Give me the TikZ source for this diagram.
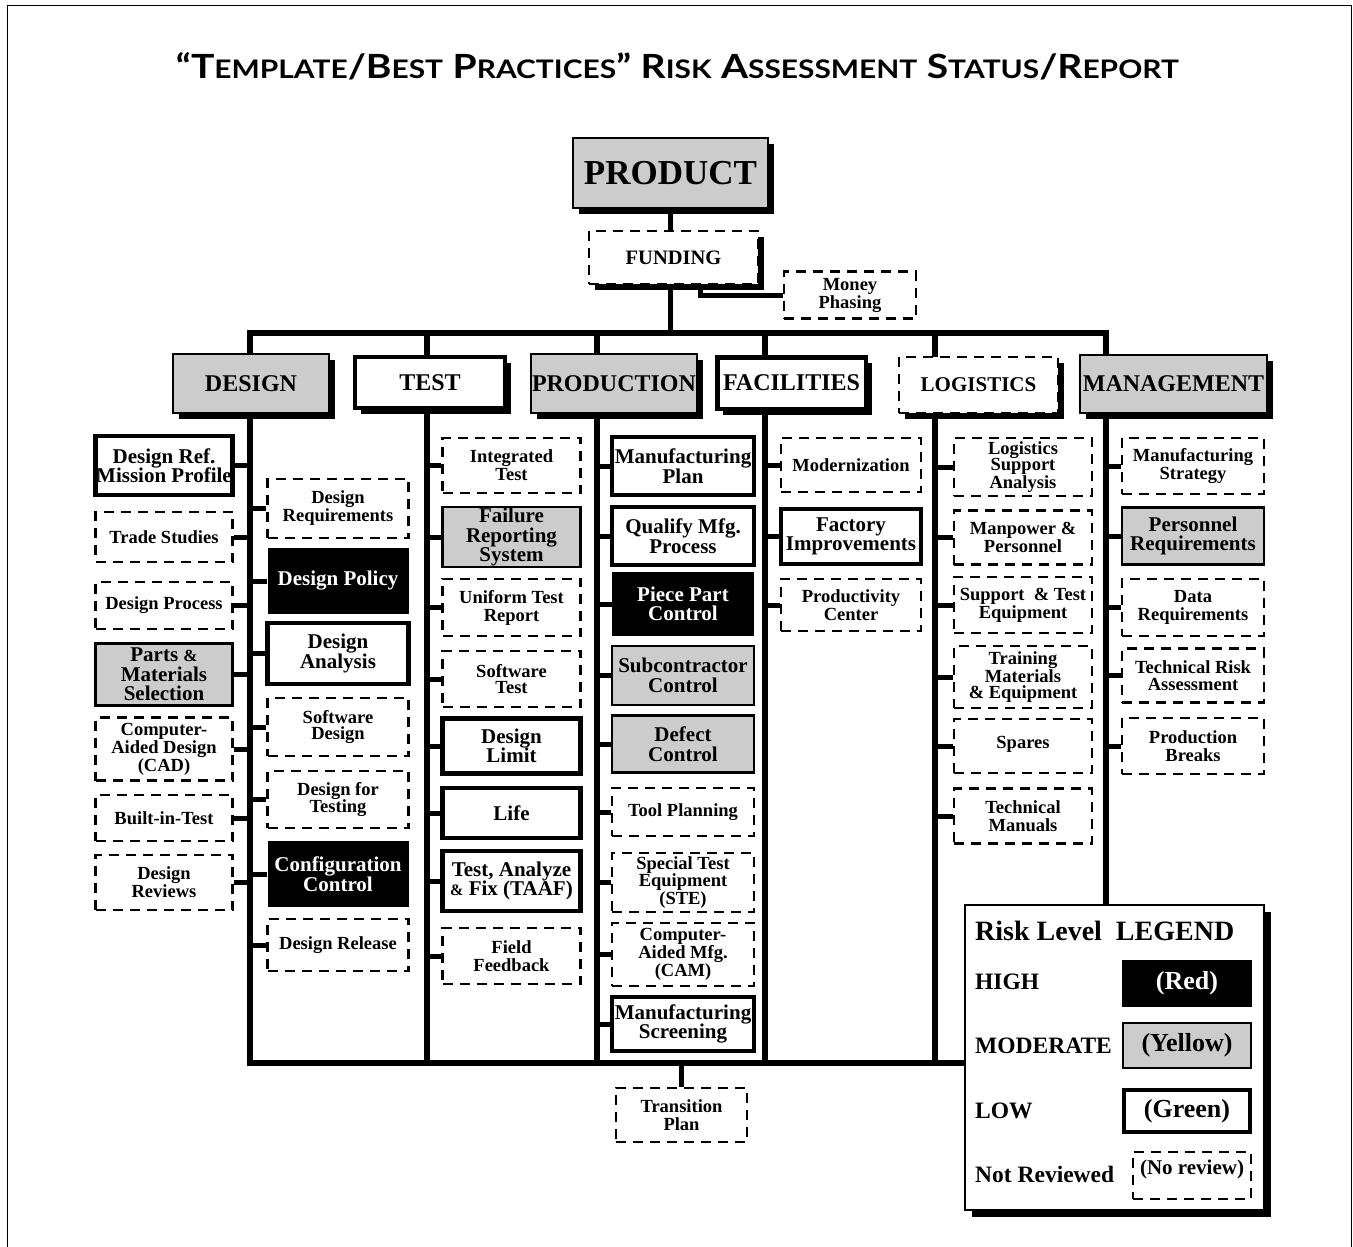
\documentclass[tikz,border=0pt]{standalone}
\usepackage{graphicx}
\usepackage{fontspec}
\setmainfont{Liberation Serif}
\newfontfamily\titlefont{Lato}
\usetikzlibrary{shadows,backgrounds}

\newcommand{\capa}[1]{{\fontsize{30}{30}\selectfont #1}}
\newcommand{\capb}[1]{{\fontsize{23}{23}\selectfont #1}}

\begin{document}
\begin{tikzpicture}[x=1pt, y=-1pt,
  box/.style={rectangle, inner sep=0pt, align=center, font=\fontsize{21}{19.5}\selectfont\bfseries},
  hi/.style={box, fill=black, text=white},
  mod/.style={box, draw, line width=2.5pt, fill=black!20},
  low/.style={box, draw, line width=4.5pt, fill=white},
  nrev/.style={box, draw, line width=2.5pt, dash pattern=on 10pt off 7pt, fill=white, font=\fontsize{18.5}{18}\selectfont\bfseries},
  nrevt/.style={nrev, font=\fontsize{18.5}{16.5}\selectfont\bfseries},
  head/.style={font=\fontsize{24}{24}\selectfont\bfseries, drop shadow={shadow xshift=6pt, shadow yshift=-6pt, fill=black, opacity=1}},
  bus/.style={line width=5.5pt, line cap=rect},
  stub/.style={line width=5pt},
  lgd/.style={anchor=base west, inner sep=0pt, font=\fontsize{23.5}{24}\selectfont\bfseries},
  swatch/.style={minimum width=130pt, minimum height=47pt, font=\fontsize{26}{26}\selectfont\bfseries}]
  \useasboundingbox (0,0) rectangle (1353,1247);
  \draw[line width=1pt] (7,1247) -- (7,6) -- (1351,6) -- (1351,1247);

  \node[anchor=base, inner sep=0pt] (title) at (677.5,79) {\resizebox{1003pt}{26pt}{\titlefont\bfseries\fontsize{30}{30}\selectfont
    \capa{“T}\capb{EMPLATE}\capa{/B}\capb{EST} \capa{P}\capb{RACTICES}\capa{”} \capa{R}\capb{ISK} \capa{A}\capb{SSESSMENT} \capa{S}\capb{TATUS}\capa{/R}\capb{EPORT}}};

  % spine positions on the top bus
  \coordinate (dsgtop) at (250,333);
  \coordinate (tsttop) at (427,333);
  \coordinate (prdtop) at (597,333);
  \coordinate (factop) at (765,333);
  \coordinate (lgstop) at (935,333);
  \coordinate (mgttop) at (1106,333);
  \coordinate (botl) at (250,1063);

  \node[mod, head, font=\fontsize{35}{35}\selectfont\bfseries, minimum width=195pt, minimum height=70pt] (prod) at (670.5,173) {PRODUCT};
  \node[nrev, head, font=\fontsize{20.5}{21}\selectfont\bfseries, minimum width=169pt, minimum height=53pt] (fund) at (673.5,257.5) {FUNDING};
  \node[nrev, minimum width=132pt, minimum height=47pt] (money) at (850,295) {Money\\Phasing};

  \node[mod, head, minimum width=156pt, minimum height=59pt] (dsg) at (251,383.5) {DESIGN};
  \node[low, head, minimum width=150pt, minimum height=51pt] (tst) at (430,382.5) {TEST};
  \node[mod, head, minimum width=166pt, minimum height=59pt] (prd) at (614,383.5) {PRODUCTION};
  \node[low, head, minimum width=148.5pt, minimum height=51.5pt] (fac) at (791.5,383) {FACILITIES};
  \node[nrev, head, font=\fontsize{21}{21}\selectfont\bfseries, minimum width=159pt, minimum height=56pt] (lgs) at (978.5,385) {LOGISTICS};
  \node[mod, head, minimum width=187pt, minimum height=58pt] (mgt) at (1173.5,384) {MANAGEMENT};

  % design, left of the spine
  \foreach \nm/\st/\yc/\hh/\txt in {dref/low/465.5/59/{Design Ref.\\Mission Profile},
      dtrd/nrev/537/50/{Trade Studies}, dprc/nrev/605.5/47/{Design Process},
      dpmt/mod/674.5/62/{Parts {\fontsize{17}{17}\selectfont\&}\\Materials\\Selection},
      dcad/nrevt/749/63/{Computer-\\Aided Design\\(CAD)}, dbit/nrev/818/46/{Built-in-Test},
      drev/nrevt/882.5/55/{Design\\Reviews}}{
    \node[\st, minimum width=137pt, minimum height=\hh pt] (\nm) at (164,\yc) {\txt};
    \draw[stub] (\nm.east) -- (\nm.east -| dsgtop);
  }
  % design, right of the spine
  \foreach \nm/\st/\yc/\hh/\txt in {dreq/nrev/508.5/59/{Design\\Requirements},
      dpol/hi/581/66/{Design Policy}, dana/low/653.5/61/{Design\\Analysis},
      dsw/nrevt/727/58/{Software\\Design}, dtst/nrevt/799.5/57/{Design for\\Testing},
      dcfg/hi/874/66/{Configuration\\Control}, drel/nrev/945/52/{Design Release}}{
    \node[\st, minimum width=141pt, minimum height=\hh pt] (\nm) at (338,\yc) {\txt};
    \draw[stub] (\nm.west) -- (\nm.west -| dsgtop);
  }
  % test
  \foreach \nm/\st/\yc/\hh/\txt in {tint/nrev/465.5/55/{Integrated\\Test},
      tfrs/mod/537/60/{Failure\\Reporting\\System}, tutr/nrev/607.5/57/{Uniform Test\\Report},
      tsw/nrevt/679/56/{Software\\Test}, tlim/low/746/55/{Design\\Limit}, tlif/low/813/50/{Life},
      taaf/low/881/60/{Test, Analyze\\{\fontsize{16}{16}\selectfont\&} Fix (TAAF)},
      tfld/nrev/956/56/{Field\\Feedback}}{
    \node[\st, minimum width=138pt, minimum height=\hh pt] (\nm) at (511.5,\yc) {\txt};
    \draw[stub] (\nm.west) -- (\nm.west -| tsttop);
  }
  % production
  \foreach \nm/\st/\yc/\hh/\txt in {pmfp/low/466/58/{Manufacturing\\Plan},
      pqmp/low/536/58/{Qualify Mfg.\\Process}, ppp/hi/604/64/{Piece Part\\Control},
      psub/mod/675.5/59/{Subcontractor\\Control}, pdef/mod/744/57/{Defect\\Control},
      ptool/nrev/812/48/{Tool Planning}, pste/nrevt/882.5/59/{Special Test\\Equipment\\(STE)},
      pcam/nrevt/954.5/63/{Computer-\\Aided Mfg.\\(CAM)}, pscr/low/1024/54/{Manufacturing\\Screening}}{
    \node[\st, minimum width=142pt, minimum height=\hh pt] (\nm) at (683,\yc) {\txt};
    \draw[stub] (\nm.west) -- (\nm.west -| prdtop);
  }
  \node[nrev, minimum width=131pt, minimum height=54pt] (trans) at (681.5,1115) {Transition\\Plan};
  % facilities
  \foreach \nm/\st/\yc/\hh/\txt in {fmod/nrev/465/54/{Modernization},
      ffac/low/536.5/55/{Factory\\Improvements}, fprd/nrev/605/52/{Productivity\\Center}}{
    \node[\st, minimum width=140pt, minimum height=\hh pt] (\nm) at (851,\yc) {\txt};
    \draw[stub] (\nm.west) -- (\nm.west -| factop);
  }
  % logistics
  \foreach \nm/\st/\yc/\hh/\txt in {llsa/nrevt/467/58/{Logistics\\Support\\Analysis},
      lmp/nrev/537.5/54/{Manpower \&\\Personnel}, lste/nrev/605/56/{Support \ \& Test\\Equipment},
      ltrn/nrevt/677/62/{Training\\Materials\\\& Equipment}, lspr/nrev/746/54/{Spares\\[-10pt]},
      ltm/nrev/816/55/{Technical\\Manuals}}{
    \node[\st, minimum width=138pt, minimum height=\hh pt] (\nm) at (1023,\yc) {\txt};
    \draw[stub] (\nm.west) -- (\nm.west -| lgstop);
  }
  % management
  \foreach \nm/\st/\yc/\hh/\txt in {mstr/nrev/466/56/{Manufacturing\\Strategy},
      mper/mod/536/57/{Personnel\\Requirements}, mdat/nrev/607.5/57/{Data\\Requirements},
      mtra/nrevt/675.5/54/{Technical Risk\\Assessment}, mpb/nrev/746/56/{Production\\Breaks}}{
    \node[\st, minimum width=142pt, minimum height=\hh pt] (\nm) at (1193,\yc) {\txt};
    \draw[stub] (\nm.west) -- (\nm.west -| mgttop);
  }

  % legend
  \node[draw, line width=2.5pt, fill=white, inner sep=0pt, minimum width=299pt, minimum height=305pt,
    drop shadow={shadow xshift=7pt, shadow yshift=-7pt, fill=black, opacity=1}] (legend) at (1114.5,1057.5) {};
  \node[lgd, font=\fontsize{28}{28}\selectfont\bfseries] (lgdtitle) at (975,940) {Risk Level\hspace{14pt}LEGEND};
  \node[lgd] (lhigh) at (975,989) {HIGH};
  \node[hi, swatch] (shigh) at (1187,983.5) {(Red)};
  \node[lgd] (lmod) at (975,1053) {MODERATE};
  \node[mod, swatch, minimum width=128pt, minimum height=45pt] (smod) at (1187,1045.5) {(Yellow)};
  \node[lgd] (llow) at (975,1118) {LOW};
  \node[low, swatch, minimum width=126pt, minimum height=42pt] (slow) at (1187,1111) {(Green)};
  \node[lgd] (lnr) at (975,1182) {Not Reviewed};
  \node[nrev, minimum width=118pt, minimum height=47pt, font=\fontsize{21}{21}\selectfont\bfseries] (snr) at (1192,1175.5) {(No review)\\[-4pt]};

  \begin{scope}[on background layer]
    \draw[bus] (dsgtop) -- (mgttop);
    \foreach \c in {dsgtop,tsttop,prdtop,factop,lgstop}{ \draw[bus] (\c) -- (\c |- botl); }
    \draw[bus] (mgttop) -- (mgttop |- legend.north);
    \draw[bus] (botl) -- (botl -| legend.west);
    \draw[bus] (prod.south) -- (prod.south |- dsgtop);
    \draw[stub] ([xshift=27pt]fund.south) |- (money.west);
    \draw[stub] (trans.north) -- (trans.north |- botl);
  \end{scope}
\end{tikzpicture}
\end{document}
